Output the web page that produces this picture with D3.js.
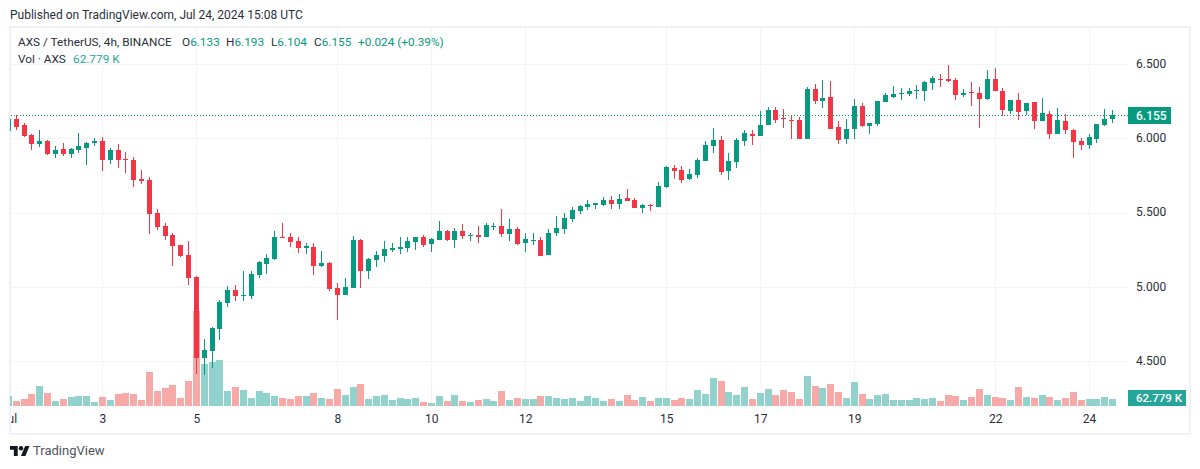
<!DOCTYPE html>
<html>
<head>
<meta charset="utf-8">
<script src="https://d3js.org/d3.v7.min.js"></script>
<style>
  html, body { margin: 0; padding: 0; background: #fff; }
  svg { display: block; }
  text { font-family: Roboto, sans-serif; }
</style>
</head>
<body>
<svg id="chart" width="1200" height="469"></svg>
<script>
const opens = [6.050,6.131,6.090,6.023,5.962,5.982,5.895,5.928,5.895,5.922,5.935,5.969,5.982,5.854,5.922,5.861,5.854,5.726,5.720,5.497,5.410,5.349,5.281,5.214,5.066,4.520,4.567,4.715,4.891,4.978,4.938,4.938,5.079,5.153,5.187,5.335,5.335,5.308,5.261,5.268,5.140,5.160,4.992,4.945,4.992,5.315,5.106,5.180,5.207,5.248,5.255,5.261,5.302,5.335,5.288,5.315,5.376,5.315,5.376,5.342,5.349,5.335,5.403,5.410,5.356,5.389,5.295,5.308,5.315,5.214,5.362,5.389,5.457,5.511,5.538,5.551,5.551,5.585,5.558,5.598,5.585,5.531,5.551,5.538,5.672,5.800,5.787,5.726,5.753,5.848,5.949,5.989,5.780,5.841,5.982,6.030,6.016,6.090,6.191,6.137,6.124,6.124,5.996,6.333,6.252,6.279,6.077,5.996,6.063,6.218,6.083,6.097,6.245,6.279,6.299,6.299,6.319,6.319,6.373,6.400,6.400,6.393,6.292,6.313,6.306,6.265,6.400,6.319,6.185,6.259,6.185,6.245,6.117,6.164,6.030,6.117,6.056,5.982,5.955,5.996,6.090,6.133];
const highs = [6.137,6.158,6.104,6.030,6.056,5.989,5.949,5.969,5.935,6.036,5.976,6.003,6.009,5.935,5.962,5.908,5.875,5.787,5.740,5.524,5.430,5.362,5.281,5.308,5.073,4.648,4.729,4.911,5.005,5.012,5.106,5.106,5.174,5.221,5.376,5.430,5.362,5.335,5.295,5.295,5.241,5.167,5.025,5.059,5.342,5.322,5.194,5.241,5.308,5.295,5.335,5.335,5.335,5.349,5.329,5.443,5.383,5.396,5.423,5.362,5.410,5.430,5.430,5.524,5.457,5.403,5.362,5.362,5.335,5.389,5.477,5.497,5.538,5.551,5.585,5.564,5.605,5.612,5.625,5.659,5.598,5.558,5.558,5.706,5.814,5.821,5.814,5.794,5.868,5.982,6.070,6.016,5.902,6.003,6.056,6.056,6.185,6.212,6.212,6.198,6.158,6.144,6.346,6.367,6.393,6.387,6.117,6.131,6.265,6.238,6.104,6.252,6.306,6.353,6.340,6.340,6.360,6.387,6.420,6.434,6.494,6.407,6.333,6.380,6.346,6.461,6.474,6.340,6.259,6.306,6.238,6.245,6.272,6.185,6.205,6.164,6.063,6.003,6.030,6.097,6.198,6.193];
const lows = [6.050,6.056,6.009,5.922,5.942,5.888,5.868,5.881,5.868,5.902,5.821,5.949,5.780,5.827,5.800,5.767,5.672,5.693,5.356,5.383,5.315,5.140,5.201,5.012,4.412,4.405,4.453,4.641,4.864,4.904,4.904,4.918,5.059,5.086,5.180,5.329,5.268,5.228,5.221,5.079,5.133,4.972,4.776,4.945,4.992,4.992,5.052,5.133,5.167,5.234,5.221,5.234,5.248,5.268,5.234,5.315,5.308,5.261,5.322,5.308,5.295,5.335,5.383,5.335,5.308,5.281,5.234,5.281,5.207,5.214,5.342,5.356,5.436,5.490,5.517,5.524,5.544,5.524,5.524,5.578,5.531,5.497,5.511,5.538,5.666,5.726,5.699,5.720,5.733,5.848,5.902,5.753,5.720,5.800,5.949,5.955,6.016,6.090,6.104,6.070,5.996,5.996,5.996,6.232,6.205,6.063,5.962,5.962,5.996,6.077,6.030,6.083,6.245,6.272,6.259,6.286,6.265,6.252,6.326,6.346,6.380,6.259,6.279,6.218,6.070,6.259,6.319,6.151,6.164,6.124,6.158,6.063,6.117,5.996,6.030,6.030,5.868,5.922,5.928,5.969,6.083,6.104];
const closes = [6.131,6.077,6.016,5.962,5.982,5.895,5.922,5.895,5.928,5.949,5.969,5.982,5.854,5.922,5.854,5.854,5.720,5.713,5.490,5.403,5.342,5.275,5.207,5.059,4.520,4.574,4.722,4.897,4.978,4.938,4.945,5.086,5.167,5.194,5.335,5.329,5.302,5.261,5.275,5.140,5.160,4.985,4.945,4.998,5.315,5.106,5.187,5.214,5.255,5.261,5.268,5.308,5.335,5.281,5.322,5.376,5.315,5.376,5.342,5.349,5.335,5.416,5.410,5.356,5.389,5.288,5.322,5.315,5.207,5.362,5.396,5.464,5.517,5.544,5.558,5.564,5.585,5.558,5.591,5.578,5.531,5.551,5.544,5.679,5.807,5.780,5.720,5.760,5.854,5.955,5.989,5.773,5.848,5.989,6.036,6.016,6.090,6.191,6.124,6.131,6.117,5.996,6.333,6.252,6.272,6.063,5.989,6.063,6.218,6.083,6.104,6.252,6.292,6.299,6.306,6.319,6.326,6.380,6.407,6.393,6.387,6.292,6.306,6.306,6.265,6.400,6.319,6.191,6.259,6.178,6.238,6.117,6.171,6.030,6.124,6.056,5.976,5.955,6.009,6.097,6.131,6.155];
// volume in thousands of AXS
const volumes = [90,45,63,108,180,117,45,63,81,90,90,36,81,54,108,117,108,54,306,135,162,189,72,225,855,378,396,414,135,171,144,72,135,117,90,72,63,90,90,117,72,63,153,99,171,198,63,90,99,54,72,63,72,36,27,90,45,99,45,36,54,63,45,135,54,72,63,63,90,90,72,63,72,45,90,72,45,63,45,99,54,81,45,72,72,54,72,63,144,108,252,225,126,99,171,63,117,153,99,144,126,63,270,180,162,198,126,72,216,108,63,99,108,54,54,54,72,63,72,45,99,90,54,81,153,99,81,72,54,171,81,72,99,81,54,72,126,54,63,63,81,62.779];

const dayBars = [0,12,24,42,54,66,84,96,108,126,138];
const dayLabels = ["Jul","3","5","8","10","12","15","17","19","22","24"];
const priceTicks = [4.5,5,5.5,6,6.5];
const lastPrice = 6.155;
const lastVolume = "62.779 K";

const up = "#089981", down = "#f23645";
const volUp = "#92d2cc", volDown = "#f7a9a7";
const gridColor = "#f3f4f6", frameColor = "#f0f1f6";

const svg = d3.select("#chart");
const x = d3.scaleLinear().domain([0, 141]).range([8.5, 1112.6]);
const y = d3.scaleLinear().domain([4.5, 6.5]).range([361, 64.2]);
const v = d3.scaleLinear().domain([0, 900]).range([406, 306]);
const col = i => Math.floor(x(i));
const isUp = i => closes[i] >= opens[i];

// header line above the frame
svg.append("text").attr("x", 10).attr("y", 19).attr("font-size", 12).attr("fill", "#2a2e39")
  .text("Published on TradingView.com, Jul 24, 2024 15:08 UTC");

svg.append("rect").attr("x", 10).attr("y", 27).attr("width", 1180).attr("height", 407)
  .attr("fill", "none").attr("stroke", frameColor).attr("stroke-width", 2);

const defs = svg.append("defs");
defs.append("clipPath").attr("id", "pane").append("rect")
  .attr("x", 10).attr("y", 28).attr("width", 1118).attr("height", 400);
defs.append("clipPath").attr("id", "labels").append("rect")
  .attr("x", 11).attr("y", 406).attr("width", 1118).attr("height", 27);

// grid
const pane = svg.append("g").attr("clip-path", "url(#pane)");
pane.append("g").selectAll("line").data(priceTicks).join("line")
  .attr("x1", 11).attr("x2", 1128)
  .attr("y1", d => Math.round(y(d)) + 0.5).attr("y2", d => Math.round(y(d)) + 0.5)
  .attr("stroke", gridColor);
pane.append("g").selectAll("line").data(dayBars).join("line")
  .attr("x1", d => col(d) + 0.5).attr("x2", d => col(d) + 0.5)
  .attr("y1", 28).attr("y2", 406)
  .attr("stroke", gridColor);

// volume
pane.append("g").selectAll("rect").data(volumes).join("rect")
  .attr("x", (d, i) => col(i) - 3).attr("width", 7)
  .attr("y", d => v(d)).attr("height", d => v(0) - v(d))
  .attr("fill", (d, i) => isUp(i) ? volUp : volDown);

// last price line
pane.append("line").attr("x1", 11).attr("x2", 1128)
  .attr("y1", Math.round(y(lastPrice)) + 0.5).attr("y2", Math.round(y(lastPrice)) + 0.5)
  .attr("stroke", up).attr("stroke-dasharray", "1 2");

// candles
const candles = pane.append("g").selectAll("g").data(d3.range(opens.length)).join("g")
  .attr("fill", i => isUp(i) ? up : down);
candles.append("rect")
  .attr("x", i => col(i)).attr("width", 1)
  .attr("y", i => Math.round(y(highs[i])))
  .attr("height", i => Math.round(y(lows[i])) - Math.round(y(highs[i])));
candles.append("rect")
  .attr("x", i => col(i) - 2).attr("width", 5)
  .attr("y", i => Math.round(y(Math.max(opens[i], closes[i]))))
  .attr("height", i => Math.max(1, Math.round(y(Math.min(opens[i], closes[i]))) - Math.round(y(Math.max(opens[i], closes[i])))));

// axes
const xAxis = d3.axisBottom(x).tickValues(dayBars).tickSize(0).tickPadding(8)
  .tickFormat((d, i) => dayLabels[i]);
svg.append("g").attr("clip-path", "url(#labels)")
  .append("g").attr("transform", "translate(0,406)").call(xAxis)
  .call(g => g.select(".domain").remove())
  .call(g => g.selectAll("text").attr("font-size", 12).attr("font-family", "Roboto, sans-serif").attr("fill", "#2a2e39"));

const yAxis = d3.axisRight(y).tickValues(priceTicks).tickSize(0).tickPadding(0)
  .tickFormat(d3.format(".3f"));
svg.append("g").attr("transform", "translate(1136,-0.5)").call(yAxis)
  .call(g => g.select(".domain").remove())
  .call(g => g.selectAll("text").attr("font-size", 12).attr("font-family", "Roboto, sans-serif").attr("fill", "#2a2e39"));

// last value tags
svg.append("rect").attr("x", 1128).attr("y", 107).attr("width", 43).attr("height", 17).attr("fill", up);
svg.append("text").attr("x", 1136).attr("y", 120).attr("font-size", 12).attr("font-weight", 500).attr("fill", "#fff")
  .text(d3.format(".3f")(lastPrice));
svg.append("rect").attr("x", 1128).attr("y", 390).attr("width", 58).attr("height", 16).attr("fill", "#26a69a");
svg.append("text").attr("x", 1136).attr("y", 402).attr("font-size", 11.5).attr("font-weight", 500).attr("fill", "#fff")
  .text(lastVolume);

// legend rows
const legend = svg.append("g").attr("font-size", 11.8);
legend.append("text").attr("x", 18).attr("y", 46).attr("fill", "#2a2e39").text("AXS / TetherUS, 4h, BINANCE");
const ohlc = [["O", opens[141], 182], ["H", highs[141], 226], ["L", lows[141], 271], ["C", closes[141], 314]];
ohlc.forEach(([k, val, px]) => {
  const t = legend.append("text").attr("x", px).attr("y", 46).attr("fill", "#2a2e39").text(k);
  t.append("tspan").attr("fill", up).text(d3.format(".3f")(val));
});
legend.append("text").attr("x", 358).attr("y", 46).attr("fill", up).text("+0.024 (+0.39%)");
legend.append("text").attr("x", 18).attr("y", 63).attr("fill", "#2a2e39").text("Vol · AXS");
legend.append("text").attr("x", 73).attr("y", 63).attr("fill", "#26a69a").text(lastVolume);

// footer logo
const logo = svg.append("g").attr("transform", "translate(10,443.8) scale(0.55)").attr("fill", "#131722");
logo.append("path").attr("d", "M14 22H7V11H0V4h14v18zM28 22h-8l7.5-18h8L28 22z");
logo.append("circle").attr("cx", 20).attr("cy", 8).attr("r", 4);
svg.append("text").attr("x", 33).attr("y", 455).attr("font-size", 13).attr("fill", "#50535e").text("TradingView");
</script>
</body>
</html>
